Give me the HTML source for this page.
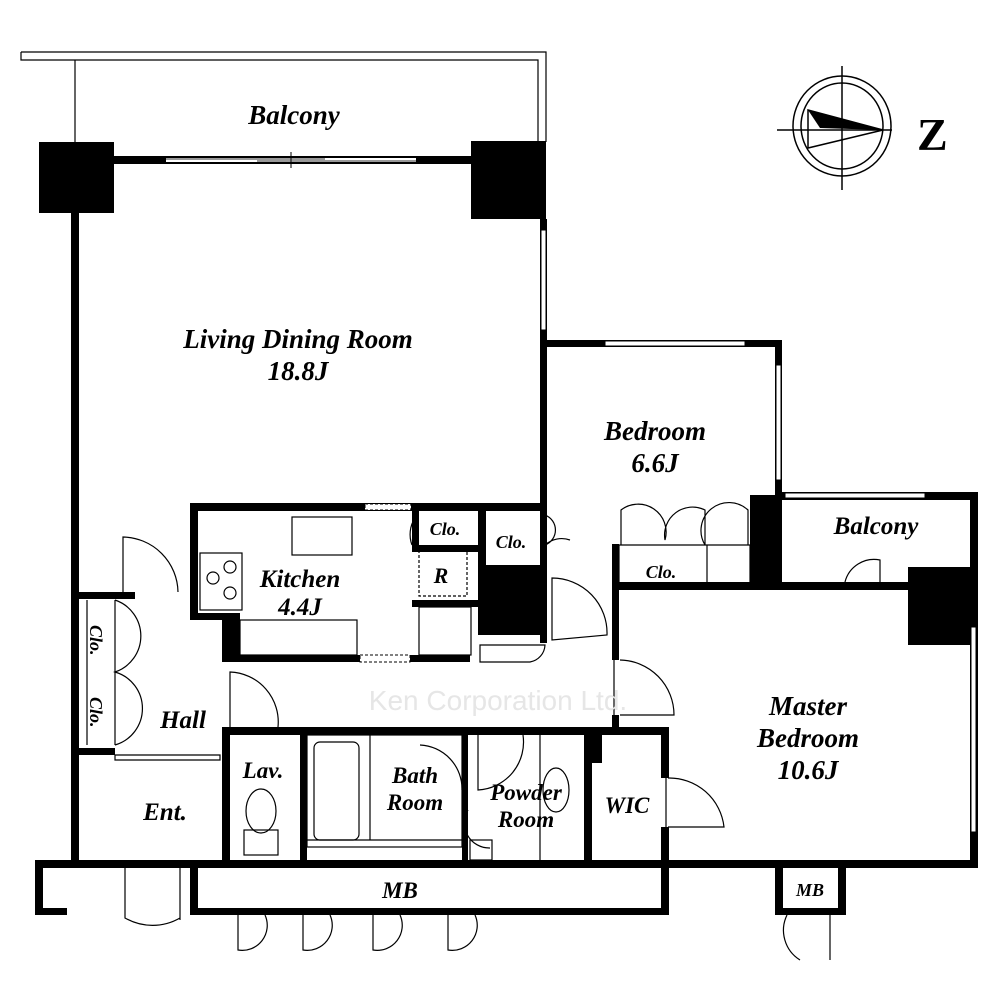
<!DOCTYPE html>
<html><head><meta charset="utf-8"><style>
body{margin:0;background:#fff}
svg{display:block}
text{font-family:"Liberation Serif",serif;font-weight:bold;font-style:italic;fill:#000}
</style></head><body>
<svg width="1000" height="1000" viewBox="0 0 1000 1000" xmlns="http://www.w3.org/2000/svg">
<rect width="1000" height="1000" fill="#fff"/>
<g fill="none" stroke="#000" stroke-width="1.2">
<path d="M21 52 H546 V142"/><path d="M21 52 V60 H538 V142"/>
<line x1="75" y1="60" x2="75" y2="142"/>
</g>
<rect x="39" y="142" width="75" height="71" fill="#000"/>
<rect x="471" y="141" width="75" height="78" fill="#000"/>
<rect x="114" y="156" width="357" height="8" fill="#000"/>
<rect x="166" y="158" width="250" height="4" fill="#fff"/>
<line x1="166" y1="159" x2="325" y2="159" stroke="#333" stroke-width="1"/>
<line x1="257" y1="161" x2="416" y2="161" stroke="#333" stroke-width="1"/>
<line x1="291" y1="152" x2="291" y2="168" stroke="#000"/>
<g fill="#000">
<rect x="71" y="213" width="8" height="655"/>
<rect x="540" y="219" width="7" height="424"/>
<rect x="540" y="340" width="242" height="7"/>
<rect x="775" y="340" width="7" height="190"/>
<rect x="782" y="492" width="196" height="8"/>
<rect x="970" y="492" width="8" height="376"/>
<rect x="750" y="495" width="32" height="94"/>
<rect x="612" y="582" width="300" height="8"/>
<rect x="908" y="567" width="62" height="78"/>
<rect x="612" y="544" width="7" height="116"/>
<rect x="612" y="715" width="7" height="20"/>
<rect x="35" y="860" width="943" height="8"/>
<rect x="35" y="860" width="8" height="55"/>
<rect x="35" y="908" width="32" height="7"/>
<rect x="190" y="503" width="355" height="8"/>
<rect x="190" y="503" width="8" height="117"/>
<rect x="190" y="613" width="32" height="7"/>
<rect x="222" y="613" width="18" height="49"/>
<rect x="222" y="655" width="248" height="7"/>
<rect x="478" y="510" width="8" height="55"/>
<rect x="478" y="565" width="67" height="70"/>
<rect x="412" y="545" width="66" height="7"/>
<rect x="412" y="600" width="66" height="7"/>
<rect x="412" y="510" width="7" height="35"/>
<rect x="222" y="727" width="446" height="8"/>
<rect x="222" y="727" width="8" height="140"/>
<rect x="79" y="592" width="56" height="7"/>
<rect x="79" y="748" width="36" height="7"/>
<rect x="661" y="727" width="8" height="51"/>
<rect x="661" y="827" width="8" height="40"/>
<rect x="584" y="727" width="8" height="140"/>
<rect x="590" y="735" width="12" height="28"/>
<rect x="300" y="735" width="7" height="132"/>
<rect x="462" y="735" width="6" height="132"/>
<rect x="190" y="868" width="8" height="47"/>
<rect x="190" y="908" width="478" height="7"/>
<rect x="661" y="868" width="8" height="47"/>
<rect x="775" y="868" width="8" height="47"/>
<rect x="838" y="868" width="8" height="47"/>
<rect x="775" y="908" width="71" height="7"/>
</g>
<g fill="#fff" stroke="#000" stroke-width="1">
<rect x="541" y="230" width="5" height="100"/>
<rect x="605" y="341" width="140" height="5"/>
<rect x="776" y="365" width="5" height="115"/>
<rect x="785" y="493" width="140" height="5"/>
<rect x="971" y="627" width="5" height="205"/>
<rect x="365" y="504" width="46" height="6" stroke-dasharray="3,2"/>
<rect x="360" y="655" width="50" height="7" stroke-dasharray="3,2"/>
</g>
<g fill="none" stroke="#000" stroke-width="1.2">
<path d="M123 593 V537 A56 56 0 0 1 178 592"/>
<path d="M115 600 V745 M87 600 V745"/>
<path d="M115 600 A38 38 0 0 1 115 672 A38 38 0 0 1 115 745"/>
<path d="M115 755 H220 V760 H115 Z"/>
<path d="M125 868 V918 A55 55 0 0 0 180 918 M180 868 V920"/>
<path d="M230 727 V672 A50 50 0 0 1 278 727"/>
<path d="M415 518 A30 30 0 0 0 412 545"/>
<path d="M545 515 A16 16 0 0 1 545 545 M545 545 A25 25 0 0 1 570 540"/>
<path d="M552 640 V578 A55 55 0 0 1 607 635 Z"/>
<path d="M480 645 H545 A18 18 0 0 1 530 662 H480 Z"/>
<path d="M621 545 V510 A28 28 0 0 1 665 540 A28 28 0 0 1 705 510 V545 M705 545 A28 28 0 0 1 748 510 V545"/>
<path d="M619 545 H750 V583 H619 Z M707 545 V583"/>
<path d="M845 582 A30 30 0 0 1 880 560 V590"/>
<path d="M614 660 V715 M620 660 A55 55 0 0 1 674 715 H620"/>
<path d="M666 778 V827 M668 778 A55 55 0 0 1 724 827 H668"/>
<path d="M478 735 V790 A48 48 0 0 0 523 735"/>
<path d="M420 745 A44 44 0 0 1 462 790"/>
<path d="M468 810 A25 25 0 0 0 490 848"/>
<path d="M238 915 V950 A25 25 0 0 0 265 915 M303 915 V950 A25 25 0 0 0 330 915 M373 915 V950 A25 25 0 0 0 400 915 M448 915 V950 A25 25 0 0 0 475 915"/>
<path d="M787 915 A35 35 0 0 0 800 960 M830 915 V960"/>
<ellipse cx="556" cy="790" rx="13" ry="22"/>
</g>
<g fill="none" stroke="#000" stroke-width="1.2">
<rect x="292" y="517" width="60" height="38"/>
<rect x="200" y="553" width="42" height="57"/>
<circle cx="213" cy="578" r="6"/><circle cx="230" cy="567" r="6"/><circle cx="230" cy="593" r="6"/>
<rect x="240" y="620" width="117" height="35"/>
<rect x="419" y="550" width="48" height="46" stroke-dasharray="3,2"/>
<rect x="419" y="607" width="52" height="48"/>
<rect x="307" y="735" width="155" height="112"/>
<rect x="314" y="742" width="45" height="98" rx="6"/>
<line x1="370" y1="735" x2="370" y2="840"/><line x1="307" y1="840" x2="462" y2="840"/>
<ellipse cx="261" cy="811" rx="15" ry="22"/>
<rect x="244" y="830" width="34" height="25"/>
<line x1="540" y1="735" x2="540" y2="860"/>
<rect x="470" y="840" width="22" height="20"/>
</g>
<g fill="none" stroke="#000" stroke-width="1.5">
<ellipse cx="842" cy="126" rx="49" ry="50"/>
<ellipse cx="842" cy="126" rx="41" ry="43"/>
<line x1="842" y1="66" x2="842" y2="190"/>
<line x1="777" y1="130" x2="892" y2="130"/>
<path d="M808 110 L883 130 L808 148 Z"/>
</g>
<path d="M808 110 L883 130 L820 128 Z" fill="#000"/>
<text x="917" y="150" style="font-style:normal;font-size:46px">Z</text>
<g text-anchor="middle">
<text x="294" y="124" font-size="27">Balcony</text>
<text x="298" y="348" font-size="27">Living Dining Room</text>
<text x="298" y="380" font-size="27">18.8J</text>
<text x="655" y="440" font-size="27">Bedroom</text>
<text x="655" y="472" font-size="27">6.6J</text>
<text x="876" y="534" font-size="25">Balcony</text>
<text x="808" y="715" font-size="27">Master</text>
<text x="808" y="747" font-size="27">Bedroom</text>
<text x="808" y="779" font-size="27">10.6J</text>
<text x="300" y="587" font-size="25">Kitchen</text>
<text x="300" y="615" font-size="25">4.4J</text>
<text x="445" y="535" font-size="18">Clo.</text>
<text x="511" y="548" font-size="18">Clo.</text>
<text x="441" y="583" font-size="22">R</text>
<text x="661" y="578" font-size="18">Clo.</text>
<text x="183" y="728" font-size="25">Hall</text>
<text x="165" y="820" font-size="25">Ent.</text>
<text x="263" y="778" font-size="23">Lav.</text>
<text x="415" y="783" font-size="23">Bath</text>
<text x="415" y="810" font-size="23">Room</text>
<text x="526" y="800" font-size="23">Powder</text>
<text x="526" y="827" font-size="23">Room</text>
<text x="627" y="813" font-size="23">WIC</text>
<text x="400" y="898" font-size="23">MB</text>
<text x="810" y="896" font-size="18">MB</text>
<text x="498" y="710" font-size="28" style="font-style:normal;font-weight:normal;font-family:'Liberation Sans',sans-serif;fill:#e6e6e6">Ken Corporation Ltd.</text>
</g>
<text transform="translate(90,625) rotate(90)" font-size="18">Clo.</text>
<text transform="translate(90,697) rotate(90)" font-size="18">Clo.</text>
</svg>
</body></html>
